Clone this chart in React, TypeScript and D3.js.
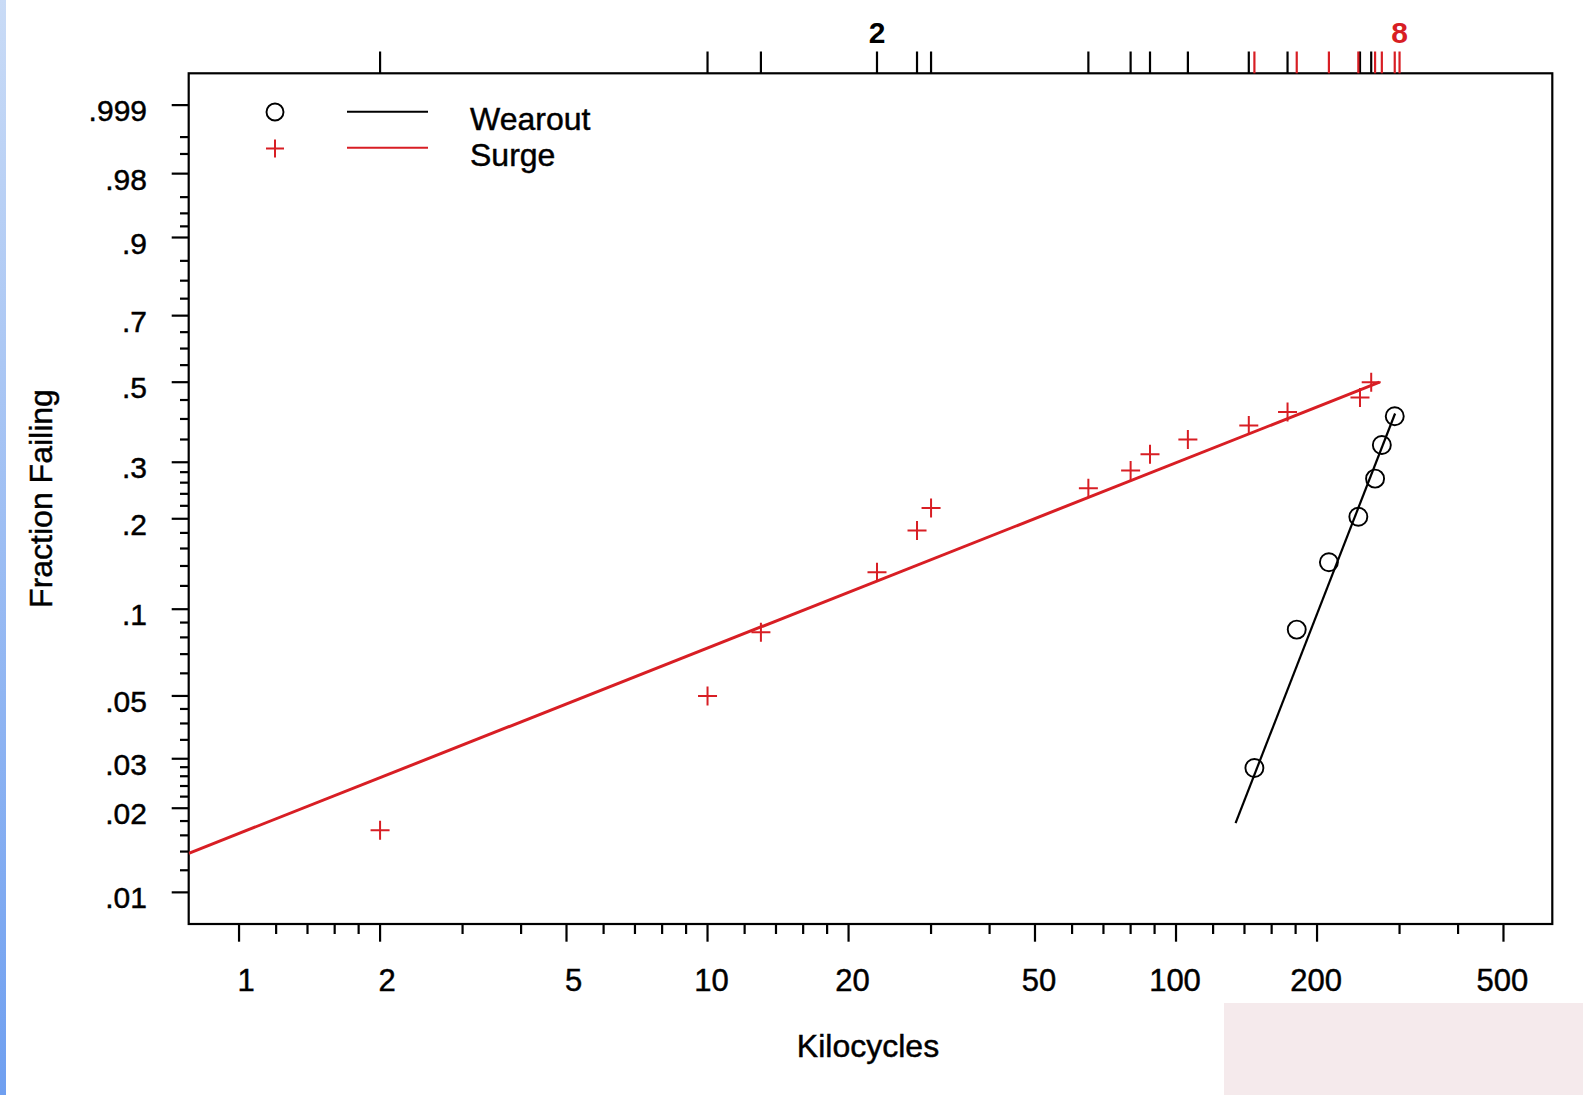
import React from "react";
import * as d3 from "d3";

// ---------- data ----------
const xMajorTicks = [1, 2, 5, 10, 20, 50, 100, 200, 500];
const xMajorLabels = ["1", "2", "5", "10", "20", "50", "100", "200", "500"];
const xMinorTicks = [1.2, 1.4, 1.6, 1.8, 3, 4, 6, 7, 8, 9, 12, 14, 16, 18, 30, 40, 60, 70, 80, 90, 120, 140, 160, 180, 300, 400];

const yMajorTicks = [0.01, 0.02, 0.03, 0.05, 0.1, 0.2, 0.3, 0.5, 0.7, 0.9, 0.98, 0.999];
const yMajorLabels = [".01", ".02", ".03", ".05", ".1", ".2", ".3", ".5", ".7", ".9", ".98", ".999"];
const yMinorTicks = [0.012, 0.014, 0.016, 0.018, 0.022, 0.024, 0.026, 0.028, 0.035, 0.04, 0.045, 0.06, 0.07, 0.08, 0.09, 0.12, 0.14, 0.16, 0.18, 0.22, 0.24, 0.26, 0.28, 0.35, 0.4, 0.45, 0.55, 0.6, 0.65, 0.75, 0.8, 0.85, 0.92, 0.94, 0.96, 0.99, 0.995];

// Surge failures (kilocycles) and plotting positions
const surgeTimes = [2, 10, 13, 23, 28, 30, 65, 80, 88, 106, 143, 173, 247, 261];
const surgeProb = [0.0167, 0.05, 0.0833, 0.1333, 0.1833, 0.2167, 0.25, 0.2833, 0.3167, 0.35, 0.3833, 0.418, 0.457, 0.5];

// Wearout failures
const wearTimes = [147, 181, 212, 245, 266, 275, 293];
const wearProb = [0.0278, 0.0851, 0.1441, 0.2031, 0.2675, 0.3373, 0.407];

// Fitted Weibull lines (end points)
const surgeFitTimes = [0.781, 272];
const surgeFitProb = [0.0138, 0.5];
const wearFitTimes = [134, 293.5];
const wearFitProb = [0.0177, 0.414];

// Top rug marks (censored times for each mode)
const rugBlack = [2, 10, 13, 23, 28, 30, 65, 80, 88, 106, 143, 173, 247, 261];
const rugRed = [147, 181, 212, 245, 266, 275, 293, 300];
const rugCountTimes = [23, 300];
const rugCountLabels = ["2", "8"];
const rugCountColors = ["black", "red"];

const seriesNames = ["Wearout", "Surge"];

// ---------- layout ----------
const W = 1587;
const H = 1095;
const L = 188.7, R = 1552.3, T = 73.3, B = 924;
const X_MIN = 0.7808, X_MAX = 635.6;
const P_MIN = 0.0077, P_MAX = 0.999876;
const RED = "#d81e24";
const FONT = "'Liberation Sans', Arial, Helvetica, sans-serif";
const TXT_STROKE = 0.45;

const wb = (p: number) => Math.log(-Math.log(1 - p));

export default function App() {
  const x = d3.scaleLog().domain([X_MIN, X_MAX]).range([L, R]);
  const y = d3.scaleLinear().domain([wb(P_MIN), wb(P_MAX)]).range([B, T]);
  const line = d3
    .line<[number, number]>()
    .x((d) => x(d[0]))
    .y((d) => y(wb(d[1])));

  const surgeFit = surgeFitTimes.map((t, i) => [t, surgeFitProb[i]] as [number, number]);
  const wearFit = wearFitTimes.map((t, i) => [t, wearFitProb[i]] as [number, number]);

  const plus = (cx: number, cy: number, s: number) =>
    `M${cx - s},${cy}H${cx + s}M${cx},${cy - s}V${cy + s}`;

  const labelDx = (s: string) => (s.length === 1 ? 7 : s.length === 2 ? 4 : -1);

  return (
    <svg
      width={W}
      height={H}
      style={{ position: "absolute", left: 0, top: 0, background: "white" }}
      fontFamily={FONT}
    >
      <defs>
        <linearGradient id="edge" x1="0" y1="0" x2="0" y2="1">
          <stop offset="0" stopColor="#c9dbf6" />
          <stop offset="1" stopColor="#6f9ff0" />
        </linearGradient>
        <clipPath id="plotClip">
          <rect x={L} y={T} width={R - L} height={B - T} />
        </clipPath>
      </defs>
      <rect x={0} y={0} width={W} height={H} fill="white" />
      <rect x={0} y={0} width={6} height={H} fill="url(#edge)" />
      <rect x={1224} y={1003} width={359} height={92} fill="#f5eaec" />

      {/* frame */}
      <rect x={L} y={T} width={R - L} height={B - T} fill="none" stroke="black" strokeWidth={2.2} />

      {/* y ticks */}
      {yMajorTicks.map((p, i) => (
        <g key={"ym" + i}>
          <line x1={L - 17} x2={L} y1={y(wb(p))} y2={y(wb(p))} stroke="black" strokeWidth={2.2} />
          <text x={147} y={y(wb(p)) + 16} textAnchor="end" fontSize={30} fill="black" stroke="black" strokeWidth={TXT_STROKE}>
            {yMajorLabels[i]}
          </text>
        </g>
      ))}
      {yMinorTicks.map((p, i) => (
        <line key={"yn" + i} x1={L - 8.7} x2={L} y1={y(wb(p))} y2={y(wb(p))} stroke="black" strokeWidth={2.2} />
      ))}

      {/* x ticks */}
      {xMajorTicks.map((t, i) => (
        <g key={"xm" + i}>
          <line x1={x(t)} x2={x(t)} y1={B} y2={B + 17.7} stroke="black" strokeWidth={2.2} />
          <text x={x(t) + labelDx(xMajorLabels[i])} y={990.5} textAnchor="middle" fontSize={31} fill="black" stroke="black" strokeWidth={TXT_STROKE}>
            {xMajorLabels[i]}
          </text>
        </g>
      ))}
      {xMinorTicks.map((t, i) => (
        <line key={"xn" + i} x1={x(t)} x2={x(t)} y1={B} y2={B + 10} stroke="black" strokeWidth={2.2} />
      ))}

      {/* top rug */}
      {rugBlack.map((t, i) => (
        <line key={"rb" + i} x1={x(t)} x2={x(t)} y1={51.5} y2={T} stroke="black" strokeWidth={2.2} />
      ))}
      {rugRed.map((t, i) => (
        <line key={"rr" + i} x1={x(t)} x2={x(t)} y1={51.5} y2={T} stroke={RED} strokeWidth={2.2} />
      ))}
      {rugCountTimes.map((t, i) => (
        <text
          key={"rc" + i}
          x={x(t)}
          y={43}
          textAnchor="middle"
          fontSize={30}
          fontWeight="bold"
          fill={rugCountColors[i] === "red" ? RED : "black"}
        >
          {rugCountLabels[i]}
        </text>
      ))}

      {/* fitted lines */}
      <g clipPath="url(#plotClip)">
        <path d={line(surgeFit) || ""} fill="none" stroke={RED} strokeWidth={3} />
        <path d={line(wearFit) || ""} fill="none" stroke="black" strokeWidth={2.2} />
      </g>

      {/* points */}
      {surgeTimes.map((t, i) => (
        <path key={"sp" + i} d={plus(x(t), y(wb(surgeProb[i])), 9.5)} stroke={RED} strokeWidth={2} fill="none" />
      ))}
      {wearTimes.map((t, i) => (
        <circle key={"wp" + i} cx={x(t)} cy={y(wb(wearProb[i]))} r={9} stroke="black" strokeWidth={1.9} fill="none" />
      ))}

      {/* legend */}
      <circle cx={275} cy={112} r={8.5} stroke="black" strokeWidth={1.9} fill="none" />
      <path d={plus(275, 148.5, 9)} stroke={RED} strokeWidth={2} fill="none" />
      <line x1={347} x2={428} y1={111.7} y2={111.7} stroke="black" strokeWidth={2} />
      <line x1={347} x2={428} y1={147.7} y2={147.7} stroke={RED} strokeWidth={2} />
      <text x={470} y={130} fontSize={32} fill="black" stroke="black" strokeWidth={TXT_STROKE}>{seriesNames[0]}</text>
      <text x={470} y={166} fontSize={32} fill="black" stroke="black" strokeWidth={TXT_STROKE}>{seriesNames[1]}</text>

      {/* axis titles */}
      <text x={868} y={1057} textAnchor="middle" fontSize={32} fill="black" stroke="black" strokeWidth={TXT_STROKE}>Kilocycles</text>
      <text
        transform={`translate(52,498.5) rotate(-90)`}
        textAnchor="middle"
        fontSize={32}
        fill="black"
        stroke="black"
        strokeWidth={TXT_STROKE}
      >
        Fraction Failing
      </text>
    </svg>
  );
}
